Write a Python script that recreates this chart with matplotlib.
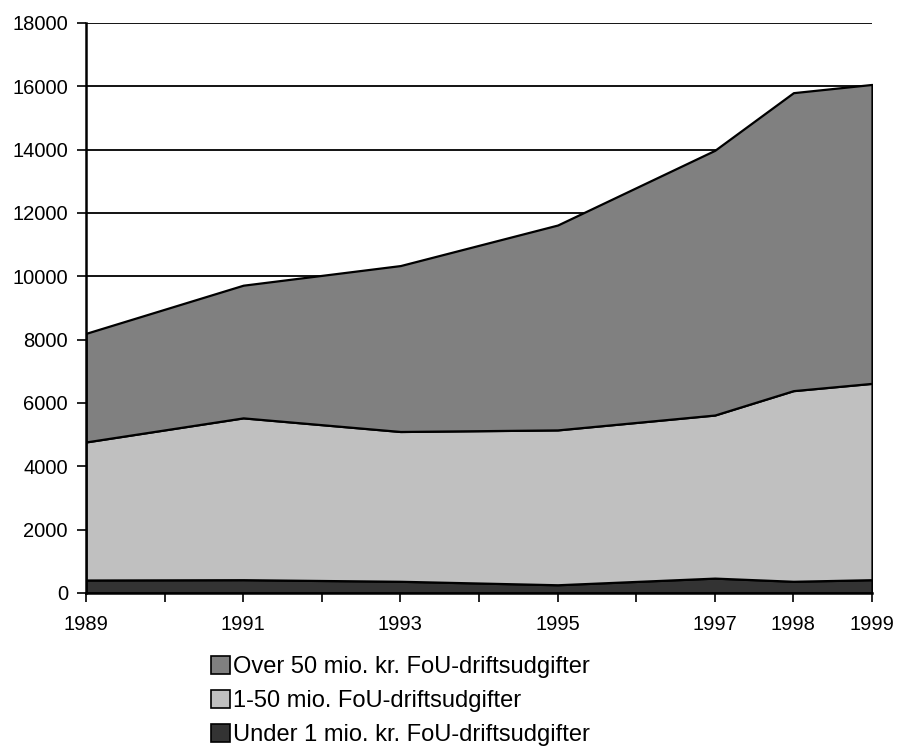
import numpy as np
import matplotlib.pyplot as plt
from matplotlib.patches import Patch

plt.rcParams['font.family'] = ['Liberation Sans', 'DejaVu Sans']

years = [1989, 1991, 1993, 1995, 1997, 1998, 1999]
under_1 = [410, 420, 370, 260, 470, 370, 420]
mio_1_50 = [4360, 5110, 4730, 4890, 5150, 6020, 6200]
over_50 = [3430, 4190, 5240, 6470, 8360, 9410, 9440]

labels = ['Under 1 mio. kr. FoU-driftsudgifter',
          '1-50 mio. FoU-driftsudgifter',
          'Over 50 mio. kr. FoU-driftsudgifter']
colors = ['#333333', '#c0c0c0', '#808080']

fig = plt.figure(figsize=(9.01, 7.47), dpi=100)
ax = fig.add_axes([86 / 901, (747 - 593) / 747, 786 / 901, 570 / 747])

# grid lines behind the areas
for y in range(2000, 18001, 2000):
    ax.axhline(y, color='black', lw=1.3, zorder=0)

ax.stackplot(years, under_1, mio_1_50, over_50, colors=colors,
             edgecolor='black', linewidth=1.6, zorder=2)

ax.set_xlim(1989, 1999)
ax.set_ylim(0, 18000)
ax.set_yticks(range(0, 18001, 2000))
all_years = list(range(1989, 2000))
ax.set_xticks(all_years)
ax.set_xticklabels([str(y) if y in years else '' for y in all_years])
ax.tick_params(axis='both', labelsize=14.5, length=6.5, width=1.2, direction='out', pad=6.5)
ax.tick_params(axis='x', pad=9)

for s in ['top', 'right']:
    ax.spines[s].set_visible(False)
for s in ['left', 'bottom']:
    ax.spines[s].set_linewidth(1.8)

handles = [Patch(facecolor=c, edgecolor='black', linewidth=1.2) for c in colors[::-1]]
fig.legend(handles, labels[::-1], loc='upper left', bbox_to_anchor=(199 / 901, 1 - 644 / 747),
           frameon=False, fontsize=17, handlelength=0.8, handleheight=0.8,
           handletextpad=0.15, labelspacing=0.5, borderpad=0)

fig.savefig('out.png', dpi=100)
